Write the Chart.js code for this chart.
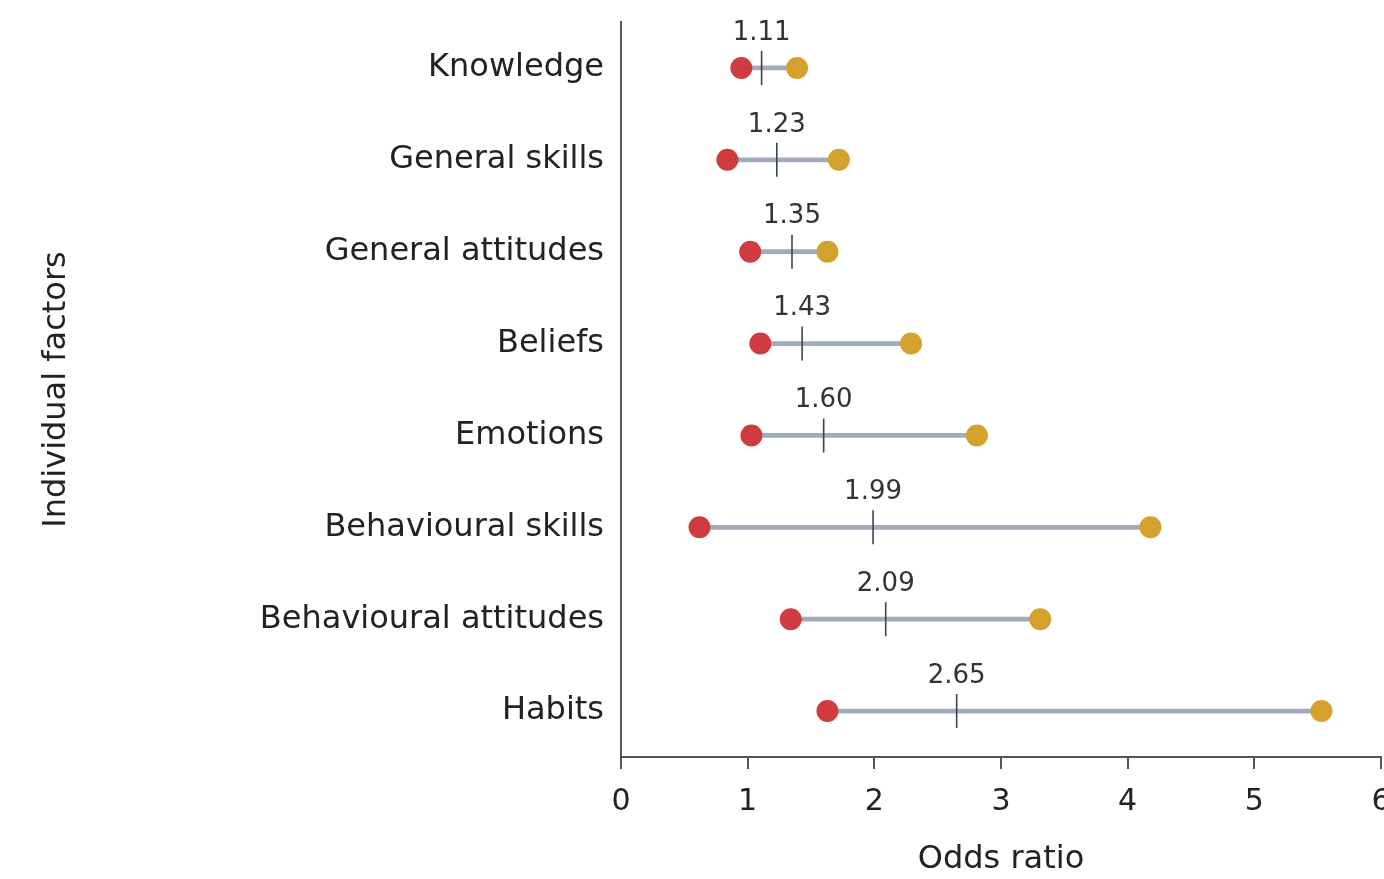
<!DOCTYPE html>
<html>
<head>
<meta charset="utf-8">
<script src="https://cdn.jsdelivr.net/npm/chart.js@4.4.1/dist/chart.umd.min.js"></script>
<style>
  body { margin: 0; background: #fff; }
  #wrap { width: 1384px; height: 879px; }
</style>
</head>
<body>
<div id="wrap"><canvas id="forest"></canvas></div>
<script>
// Individual factors vs odds ratio
const factors = ['Knowledge', 'General skills', 'General attitudes', 'Beliefs',
                 'Emotions', 'Behavioural skills', 'Behavioural attitudes', 'Habits'];
const lowValues  = [0.95, 0.84, 1.02, 1.10, 1.03, 0.62, 1.34, 1.63];
const highValues = [1.39, 1.72, 1.63, 2.29, 2.81, 4.18, 3.31, 5.53];
const meanValues = [1.11, 1.23, 1.35, 1.43, 1.60, 1.99, 2.09, 2.65];
const meanLabels = ['1.11', '1.23', '1.35', '1.43', '1.60', '1.99', '2.09', '2.65'];
const xTicks = [0, 1, 2, 3, 4, 5, 6];

const FONT = 'DejaVu Sans';
const ctx = document.getElementById('forest').getContext('2d');

// labels above the mean ticks
const meanLabelPlugin = {
    id: 'meanLabels',
    afterDatasetsDraw(chart) {
        const c = chart.ctx;
        const xs = chart.scales.x, ys = chart.scales.y;
        c.save();
        c.font = '26px "' + FONT + '"';
        c.fillStyle = '#333';
        c.textAlign = 'center';
        c.textBaseline = 'middle';
        meanValues.forEach((v, i) => {
            c.fillText(meanLabels[i], xs.getPixelForValue(v), ys.getPixelForValue(i) - 35);
        });
        c.restore();
    }
};

new Chart(ctx, {
    type: 'bar',
    data: {
        labels: factors,
        datasets: [
            {
                label: 'range',
                data: factors.map((f, i) => [lowValues[i], highValues[i]]),
                backgroundColor: '#a2aabd',
                barThickness: 4,
                order: 4
            },
            {
                type: 'line',
                label: 'mean',
                indexAxis: 'y',
                data: factors.map((f, i) => ({ x: meanValues[i], y: f })),
                showLine: false,
                pointStyle: 'line',
                rotation: 90,
                pointRadius: 17,
                borderWidth: 1.6,
                borderColor: '#3a4256',
                order: 3
            },
            {
                type: 'line',
                label: 'low',
                indexAxis: 'y',
                data: factors.map((f, i) => ({ x: lowValues[i], y: f })),
                showLine: false,
                pointRadius: 11,
                borderWidth: 0,
                backgroundColor: '#d03b40',
                borderColor: '#d03b40',
                order: 1
            },
            {
                type: 'line',
                label: 'high',
                indexAxis: 'y',
                data: factors.map((f, i) => ({ x: highValues[i], y: f })),
                showLine: false,
                pointRadius: 11,
                borderWidth: 0,
                backgroundColor: '#d4a12c',
                borderColor: '#d4a12c',
                order: 2
            }
        ]
    },
    options: {
        indexAxis: 'y',
        responsive: true,
        maintainAspectRatio: false,
        animation: false,
        layout: { autoPadding: false, padding: { top: 22, right: 3, left: 0, bottom: 0 } },
        plugins: {
            legend: { display: false },
            tooltip: { enabled: false }
        },
        scales: {
            x: {
                type: 'linear',
                min: 0,
                max: 6,
                afterBuildTicks: (scale) => { scale.ticks = xTicks.map(v => ({ value: v })); },
                afterFit: (scale) => { scale.height = 122; scale.paddingLeft = 0; scale.paddingRight = 0; },
                grid: { drawOnChartArea: false, drawTicks: true, tickLength: 12, color: '#555', lineWidth: 2 },
                border: { display: true, color: '#555', width: 2 },
                ticks: {
                    color: '#222',
                    padding: 15,
                    font: { family: FONT, size: 30 }
                },
                title: {
                    display: true,
                    text: 'Odds ratio',
                    color: '#222',
                    padding: { top: 0, bottom: 0 },
                    font: { family: FONT, size: 32 }
                }
            },
            y: {
                offset: true,
                afterFit: (scale) => { scale.width = 621; scale.paddingTop = 0; scale.paddingBottom = 0; },
                grid: { display: false },
                border: { display: true, color: '#555', width: 2 },
                ticks: {
                    color: '#222',
                    padding: 9,
                    font: { family: FONT, size: 32 }
                },
                title: {
                    display: true,
                    text: 'Individual factors',
                    color: '#222',
                    padding: { top: 37, bottom: 0 },
                    font: { family: FONT, size: 32 }
                }
            }
        }
    },
    plugins: [meanLabelPlugin]
});
</script>
</body>
</html>
